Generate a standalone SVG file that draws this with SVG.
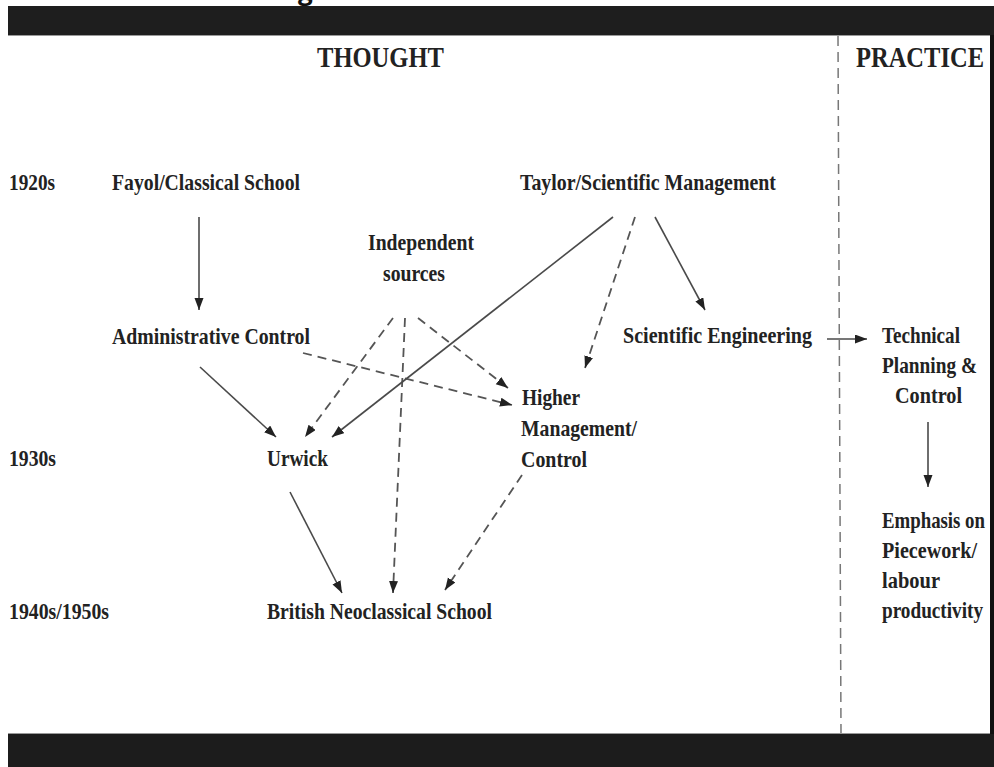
<svg xmlns="http://www.w3.org/2000/svg" width="994" height="767" viewBox="0 0 994 767">
<style>
.t{font-family:"Liberation Serif","Times New Roman",serif;font-weight:bold;font-size:23px;fill:#222;}
.h{font-family:"Liberation Serif","Times New Roman",serif;font-weight:bold;font-size:30px;fill:#222;}
.s{fill:none;stroke:#4a4a4a;stroke-width:1.6;}
.d{fill:none;stroke:#555;stroke-width:1.8;stroke-dasharray:9 6;}
</style>
<defs>
<marker id="ah" markerUnits="userSpaceOnUse" markerWidth="13" markerHeight="10" refX="12" refY="4.5" orient="auto">
<path d="M0,0 L12,4.5 L0,9 z" fill="#222"/>
</marker>
</defs>
<rect x="0" y="0" width="994" height="767" fill="#fff"/>
<text x="298" y="0" style="font-family:'Open Sans',sans-serif;font-weight:bold;font-size:26px;fill:#111">g</text>
<rect x="8" y="6" width="986" height="29" fill="#1e1e1e"/>
<rect x="8" y="734" width="986" height="33" fill="#1c1c1c"/>
<rect x="990" y="35" width="4" height="699" fill="#111"/>
<line x1="8" y1="35.5" x2="990" y2="35.5" stroke="#999" stroke-width="1"/>
<line x1="8" y1="733.5" x2="990" y2="733.5" stroke="#999" stroke-width="1"/>
<line x1="838" y1="36" x2="841" y2="733" stroke="#777" stroke-width="1.5" stroke-dasharray="10 6"/>

<g id="headers">
<text class="h" x="317" y="67" textLength="127" lengthAdjust="spacingAndGlyphs">THOUGHT</text>
<text class="h" transform="translate(856 67) scale(1 1.2)" x="0" y="0" style="font-size:25px" textLength="128" lengthAdjust="spacingAndGlyphs">PRACTICE</text>
</g>
<g id="periods">
<text class="t" x="9" y="190" textLength="46" lengthAdjust="spacingAndGlyphs">1920s</text>
<text class="t" x="9" y="466" textLength="47" lengthAdjust="spacingAndGlyphs">1930s</text>
<text class="t" x="9" y="619" textLength="100" lengthAdjust="spacingAndGlyphs">1940s/1950s</text>
</g>

<g id="connectors">
<line class="s" x1="199" y1="217" x2="199" y2="310" marker-end="url(#ah)"/>
<line class="s" x1="200" y1="367" x2="276" y2="437" marker-end="url(#ah)"/>
<line class="d" x1="303" y1="353" x2="512" y2="405" marker-end="url(#ah)"/>
<line class="d" x1="393" y1="318" x2="305" y2="437" marker-end="url(#ah)"/>
<line class="d" x1="405" y1="318" x2="393" y2="593" marker-end="url(#ah)"/>
<line class="d" x1="418" y1="318" x2="508" y2="388" marker-end="url(#ah)"/>
<line class="s" x1="613" y1="217" x2="332" y2="437" marker-end="url(#ah)"/>
<line class="d" x1="635" y1="217" x2="585" y2="368" marker-end="url(#ah)"/>
<line class="s" x1="655" y1="217" x2="705" y2="310" marker-end="url(#ah)"/>
<line class="s" x1="827" y1="339" x2="867" y2="339" marker-end="url(#ah)"/>
<line class="s" x1="928" y1="422" x2="928" y2="487" marker-end="url(#ah)"/>
<line class="s" x1="290" y1="492" x2="342" y2="593" marker-end="url(#ah)"/>
<line class="d" x1="522" y1="475" x2="445" y2="590" marker-end="url(#ah)"/>
</g>

<g id="fayol"><text class="t" x="112" y="190" textLength="188" lengthAdjust="spacingAndGlyphs">Fayol/Classical School</text></g>
<g id="taylor"><text class="t" x="520" y="190" textLength="256" lengthAdjust="spacingAndGlyphs">Taylor/Scientific Management</text></g>
<g id="independent">
<text class="t" x="368" y="250" textLength="106" lengthAdjust="spacingAndGlyphs">Independent</text>
<text class="t" x="383" y="281" textLength="62" lengthAdjust="spacingAndGlyphs">sources</text>
</g>
<g id="admin"><text class="t" x="112" y="344" textLength="198" lengthAdjust="spacingAndGlyphs">Administrative Control</text></g>
<g id="scieng"><text class="t" x="623" y="343" textLength="189" lengthAdjust="spacingAndGlyphs">Scientific Engineering</text></g>
<g id="technical">
<text class="t" x="882" y="343" textLength="78" lengthAdjust="spacingAndGlyphs">Technical</text>
<text class="t" x="882" y="373" textLength="95" lengthAdjust="spacingAndGlyphs">Planning &amp;</text>
<text class="t" x="895" y="403" textLength="67" lengthAdjust="spacingAndGlyphs">Control</text>
</g>
<g id="higher">
<text class="t" x="522" y="405" textLength="58" lengthAdjust="spacingAndGlyphs">Higher</text>
<text class="t" x="521" y="436" textLength="116" lengthAdjust="spacingAndGlyphs">Management/</text>
<text class="t" x="521" y="467" textLength="66" lengthAdjust="spacingAndGlyphs">Control</text>
</g>
<g id="urwick"><text class="t" x="267" y="466" textLength="61" lengthAdjust="spacingAndGlyphs">Urwick</text></g>
<g id="british"><text class="t" x="267" y="619" textLength="225" lengthAdjust="spacingAndGlyphs">British Neoclassical School</text></g>
<g id="emphasis">
<text class="t" transform="translate(882 528) scale(1 1.18)" x="0" y="0" style="font-size:19.4px" textLength="103" lengthAdjust="spacingAndGlyphs">Emphasis on</text>
<text class="t" x="882" y="558" textLength="95" lengthAdjust="spacingAndGlyphs">Piecework/</text>
<text class="t" x="882" y="588" textLength="58" lengthAdjust="spacingAndGlyphs">labour</text>
<text class="t" transform="translate(882 618) scale(1 1.21)" x="0" y="0" style="font-size:19px" textLength="101" lengthAdjust="spacingAndGlyphs">productivity</text>
</g>
</svg>
